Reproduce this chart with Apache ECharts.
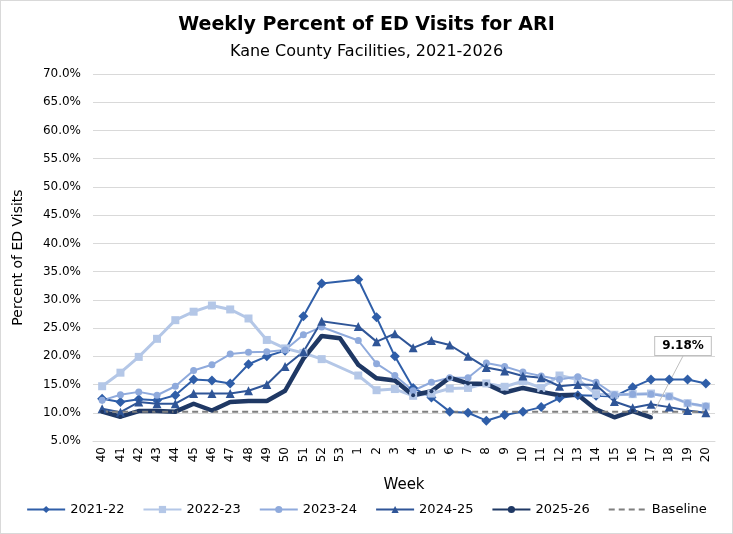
<!DOCTYPE html>
<html>
<head>
<meta charset="utf-8">
<script src="https://cdn.jsdelivr.net/npm/echarts@6/dist/echarts.min.js"></script>
<style>
html, body { margin: 0; padding: 0; background: #fff; }
#main { width: 731px; height: 532px; border: 1px solid #d9d9d9; }
</style>
</head>
<body>
<div id="main"></div>
<script>
// 周次（40-53, 1-20）
var weeks = ['40','41','42','43','44','45','46','47','48','49','50','51','52','53',
    '1','2','3','4','5','6','7','8','9','10','11','12','13','14','15','16','17','18','19','20'];

var s2122 = [12.5, 11.9, 12.4, 12.2, 13.1, 15.9, 15.7, 15.2, 18.6, 20.0, 21.0, 27.1, 32.9, null,
    33.6, 26.9, 20.0, 14.4, 12.7, 10.2, 10.0, 8.6, 9.6, 10.2, 11.0, 12.6, 13.1, 13.0, 12.9, 14.5, 15.9, 15.9, 15.9, 15.2];
var s2223 = [14.7, 17.1, 19.9, 23.1, 26.4, 27.9, 29.0, 28.3, 26.7, 22.9, 21.4, 20.6, 19.5, null,
    16.6, 14.0, 14.2, 13.0, 13.4, 14.3, 14.4, 15.2, 14.6, 15.6, 14.4, 16.6, 15.9, 13.3, 13.2, 13.3, 13.4, 12.9, 11.7, 11.1];
var s2324 = [12.2, 13.2, 13.7, 13.1, 14.7, 17.5, 18.5, 20.4, 20.7, 20.8, 21.1, 23.8, 25.2, null,
    22.8, 18.7, 16.6, 13.9, 15.4, 16.2, 16.2, 18.8, 18.2, 17.2, 16.5, 15.9, 16.4, 15.4, 13.2, 13.3, 13.3, 12.9, 11.7, 11.2];
var s2425 = [10.7, 10.1, 11.9, 11.6, 11.6, 13.4, 13.4, 13.4, 13.9, 15.0, 18.2, 20.8, 26.2, null,
    25.3, 22.6, 24.0, 21.5, 22.8, 22.0, 20.0, 18.0, 17.4, 16.5, 16.2, 14.7, 15.0, 14.9, 12.0, 10.9, 11.5, 11.0, 10.4, 10.0];
var s2526 = [10.2, 9.3, 10.3, 10.3, 10.2, 11.6, 10.4, 11.9, 12.1, 12.1, 13.9, 19.6, 23.6, 23.2,
    18.5, 16.1, 15.7, 13.1, 13.8, 16.2, 15.2, 15.1, 13.6, 14.4, 13.7, 13.1, 13.2, 10.6, 9.2, 10.3, 9.18, null, null, null];
var baseline = [];
for (var i = 0; i < weeks.length; i++) { baseline.push(10.2); }

var yTicks = { min: 5, max: 70, interval: 5 };
var lastIdx = 30; // 第17周，最新值

var font = 'DejaVu Sans';

function lineSeries(name, data, color, width, symbol, size) {
    return {
        name: name,
        type: 'line',
        data: data,
        connectNulls: true,
        symbol: symbol,
        symbolSize: size,
        showAllSymbol: true,
        itemStyle: { color: color },
        lineStyle: { color: color, width: width },
        emphasis: { disabled: true }
    };
}

var data2526 = s2526.map(function (v, i) {
    if (i !== lastIdx) return v;
    return {
        value: v,
        label: {
            show: true,
            formatter: v.toFixed(2) + '%',
            fontFamily: font,
            fontWeight: 'bold',
            fontSize: 12,
            color: '#000',
            backgroundColor: '#fff',
            borderColor: '#bfbfbf',
            borderWidth: 1,
            padding: [3, 7, 3, 7]
        },
        labelLine: { show: true, lineStyle: { color: '#bfbfbf', width: 1 } }
    };
});

var myChart = echarts.init(document.getElementById('main'), null, { renderer: 'canvas' });

var option = {
    animation: false,
    backgroundColor: '#fff',
    title: [{
        text: 'Weekly Percent of ED Visits for ARI',
        left: 'center',
        top: 10,
        textStyle: { fontFamily: font, fontSize: 19, fontWeight: 'bold', color: '#000' }
    }, {
        text: 'Kane County Facilities, 2021-2026',
        left: 'center',
        top: 38,
        textStyle: { fontFamily: font, fontSize: 16, fontWeight: 'normal', color: '#000' }
    }],
    legend: {
        bottom: 12,
        left: 'center',
        itemWidth: 38,
        itemHeight: 9,
        itemGap: 18,
        textStyle: { fontFamily: font, fontSize: 13, color: '#000' },
        data: ['2021-22', '2022-23', '2023-24', '2024-25', '2025-26',
            { name: 'Baseline', itemStyle: { opacity: 0 } }]
    },
    grid: { left: 92, right: 17, top: 73, bottom: 92 },
    xAxis: {
        type: 'category',
        data: weeks,
        boundaryGap: true,
        name: 'Week',
        nameLocation: 'middle',
        nameGap: 37,
        nameTextStyle: { fontFamily: font, fontSize: 15, color: '#000' },
        axisLine: { lineStyle: { color: '#d9d9d9' } },
        axisTick: { show: false },
        axisLabel: { rotate: 90, interval: 0, fontFamily: font, fontSize: 12, color: '#000', margin: 6 }
    },
    yAxis: {
        type: 'value',
        min: yTicks.min,
        max: yTicks.max,
        interval: yTicks.interval,
        name: 'Percent of ED Visits',
        nameLocation: 'middle',
        nameGap: 68,
        nameTextStyle: { fontFamily: font, fontSize: 14, color: '#000' },
        axisLine: { show: false },
        axisTick: { show: false },
        splitLine: { lineStyle: { color: '#d9d9d9' } },
        axisLabel: {
            fontFamily: font, fontSize: 12, color: '#000', margin: 12,
            formatter: function (v) { return v.toFixed(1) + '%'; }
        }
    },
    series: [
        lineSeries('2021-22', s2122, '#2f5ea8', 2, 'diamond', 10),
        lineSeries('2022-23', s2223, '#b4c7e7', 3, 'rect', 8),
        lineSeries('2023-24', s2324, '#8faadc', 2, 'circle', 7),
        lineSeries('2024-25', s2425, '#2f5597', 2, 'triangle', 9),
        (function () {
            var s = lineSeries('2025-26', data2526, '#1f3864', 4.5, 'circle', 4);
            s.labelLayout = { x: 682, y: 345, align: 'center', verticalAlign: 'middle' };
            return s;
        })(),
        {
            name: 'Baseline',
            type: 'line',
            data: baseline,
            symbol: 'none',
            itemStyle: { color: '#7f7f7f' },
            lineStyle: { color: '#7f7f7f', width: 2, type: [6, 4] },
            emphasis: { disabled: true }
        }
    ]
};

myChart.setOption(option);
</script>
</body>
</html>
